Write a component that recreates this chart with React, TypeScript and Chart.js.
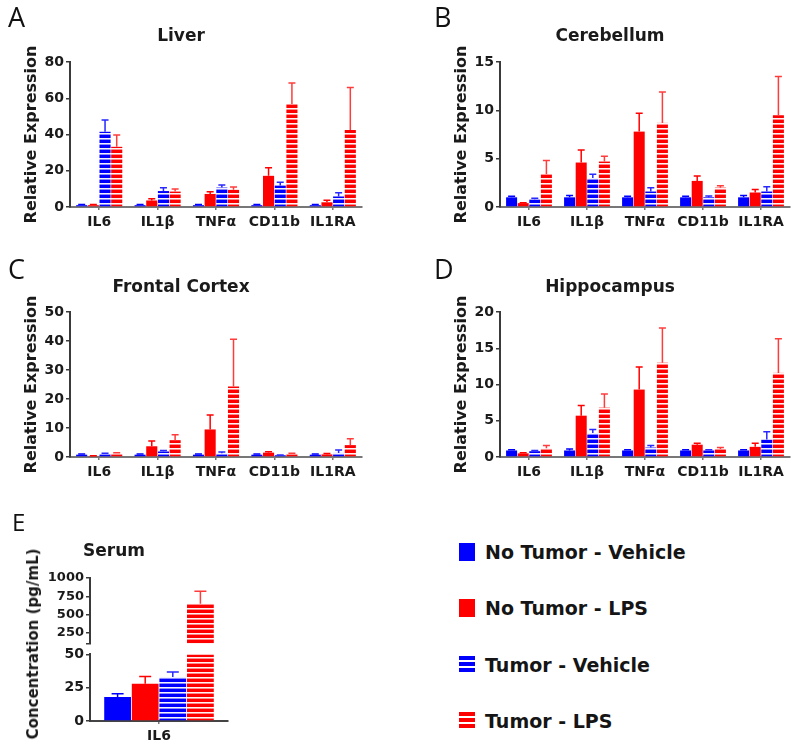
import React, { useEffect, useRef } from 'react';
import { Chart, registerables } from 'chart.js';

Chart.register(...registerables);
Chart.defaults.font.family = "'DejaVu Sans', 'Liberation Sans', sans-serif";

// ---------- data ----------
const genes = ['IL6', 'IL1β', 'TNFα', 'CD11b', 'IL1RA'];
const groups = ['No Tumor - Vehicle', 'No Tumor - LPS', 'Tumor - Vehicle', 'Tumor - LPS'];

// Liver
const liverNTV = [1.0, 1.0, 1.0, 1.0, 1.0];
const liverNTVErr = [0.4, 0.4, 0.4, 0.4, 0.4];
const liverNTL = [1.0, 3.6, 7.2, 17.2, 2.6];
const liverNTLErr = [0.4, 0.9, 1.2, 4.4, 1.1];
const liverTV = [41.5, 8.8, 10.7, 11.8, 5.8];
const liverTVErr = [6.5, 1.8, 1.4, 1.8, 2.0];
const liverTL = [33.2, 8.5, 9.5, 56.8, 42.5];
const liverTLErr = [6.5, 1.4, 1.5, 11.6, 23.5];

// Cerebellum
const cereNTV = [1.0, 1.0, 1.0, 1.0, 1.0];
const cereNTVErr = [0.1, 0.2, 0.1, 0.1, 0.2];
const cereNTL = [0.4, 4.6, 7.8, 2.7, 1.5];
const cereNTLErr = [0.05, 1.3, 1.9, 0.5, 0.3];
const cereTV = [0.8, 3.0, 1.6, 1.0, 1.6];
const cereTVErr = [0.1, 0.4, 0.4, 0.15, 0.5];
const cereTL = [3.4, 4.7, 8.7, 2.0, 9.5];
const cereTLErr = [1.4, 0.55, 3.2, 0.2, 4.0];

// Frontal Cortex
const fcNTV = [0.8, 0.8, 0.8, 0.8, 0.8];
const fcNTVErr = [0.2, 0.2, 0.2, 0.2, 0.2];
const fcNTL = [0.3, 3.7, 9.5, 1.5, 0.9];
const fcNTLErr = [0.1, 1.8, 5.0, 0.3, 0.3];
const fcTV = [1.0, 1.9, 1.3, 0.6, 1.4];
const fcTVErr = [0.3, 0.3, 0.4, 0.1, 1.0];
const fcTL = [1.2, 5.8, 24.3, 1.1, 4.1];
const fcTLErr = [0.3, 1.9, 16.3, 0.2, 2.2];

// Hippocampus
const hipNTV = [0.9, 0.9, 0.9, 0.9, 0.9];
const hipNTVErr = [0.1, 0.2, 0.1, 0.1, 0.1];
const hipNTL = [0.5, 5.7, 9.3, 1.7, 1.4];
const hipNTLErr = [0.1, 1.4, 3.1, 0.2, 0.5];
const hipTV = [0.8, 3.3, 1.3, 0.9, 2.4];
const hipTVErr = [0.1, 0.5, 0.3, 0.1, 1.1];
const hipTL = [1.2, 6.8, 13.0, 1.1, 11.6];
const hipTLErr = [0.4, 1.9, 4.8, 0.2, 4.7];

// Serum
const serumLabels = ['IL6'];
const serumIL6 = [18, 28, 33, 650];
const serumIL6Err = [2.5, 5.5, 3.8, 170];
const serumLowerTicks = [0, 25, 50];
const serumUpperTicks = [250, 500, 750, 1000];
const serumBreak = 100;

// ---------- styles ----------
const BLUE = 'rgb(0,0,255)';
const RED = 'rgb(255,0,0)';
const TEXT = '#1a1a1a';
const AXIS = '#3a3a3a';

function stripePattern(color: string): CanvasPattern | string {
  const c = document.createElement('canvas');
  c.width = 4;
  c.height = 5;
  const g = c.getContext('2d');
  if (!g) return color;
  g.fillStyle = color;
  g.fillRect(0, 0, 4, 5);
  g.fillStyle = 'rgba(255,255,255,0.95)';
  g.fillRect(0, 3, 4, 1);
  g.fillStyle = 'rgba(255,255,255,0.55)';
  g.fillRect(0, 4, 4, 1);
  const p = g.createPattern(c, 'repeat');
  return p || color;
}

const errorBarPlugin = {
  id: 'errorBars',
  afterDatasetsDraw(chart: any, _args: any, opts: any) {
    const ctx = chart.ctx;
    chart.data.datasets.forEach((ds: any, di: number) => {
      const meta = chart.getDatasetMeta(di);
      if (!ds.errors || meta.hidden) return;
      const yScale = chart.scales[meta.yAxisID];
      ctx.save();
      ctx.strokeStyle = ds.errorColor;
      ctx.lineWidth = 1.5;
      meta.data.forEach((bar: any, i: number) => {
        const raw = ds.values ? ds.values[i] : ds.data[i];
        const e = ds.errors[i];
        if (raw == null || e == null || ds.data[i] == null) return;
        if (raw > yScale.max) return;
        const yTop = yScale.getPixelForValue(raw + e);
        const half = opts.cap ?? 3.5;
        ctx.beginPath();
        ctx.moveTo(bar.x, bar.y);
        ctx.lineTo(bar.x, yTop);
        ctx.moveTo(bar.x - half, yTop);
        ctx.lineTo(bar.x + half, yTop);
        ctx.stroke();
      });
      ctx.restore();
    });
  },
};
Chart.register(errorBarPlugin as any);

function fills() {
  return [BLUE, RED, stripePattern(BLUE), stripePattern(RED)];
}
const errColors = [BLUE, RED, 'rgb(40,40,255)', 'rgb(255,60,60)'];

function organConfig(
  title: string,
  vals: number[][],
  errs: number[][],
  yMax: number,
  yStep: number,
  titleTop: number,
  titleBottom: number,
  padRight: number
): any {
  const f = fills();
  return {
    type: 'bar',
    data: {
      labels: genes,
      datasets: groups.map((g, i) => ({
        label: g,
        data: vals[i],
        errors: errs[i],
        errorColor: errColors[i],
        backgroundColor: f[i],
        borderWidth: 0,
        categoryPercentage: 0.8,
        barPercentage: 0.95,
      })),
    },
    options: {
      animation: false,
      responsive: false,
      maintainAspectRatio: false,
      layout: { padding: { right: padRight } },
      plugins: {
        legend: { display: false },
        tooltip: { enabled: false },
        title: {
          display: true,
          text: title,
          color: TEXT,
          font: { size: 17, weight: 'bold' },
          padding: { top: titleTop, bottom: titleBottom },
        },
        errorBars: { cap: 3.5 },
      },
      scales: {
        x: {
          grid: { display: true, offset: false, drawOnChartArea: false, drawTicks: true, tickLength: 3, color: '#777', lineWidth: 1.5 },
          border: { display: true, color: '#777', width: 2 },
          ticks: { color: TEXT, font: { size: 14, weight: 'bold' }, padding: 4, maxRotation: 0, autoSkip: false },
          afterFit: (s: any) => { s.height = 41; },
        },
        y: {
          min: 0,
          max: yMax,
          ticks: { stepSize: yStep, color: TEXT, font: { size: 14, weight: 'bold' }, padding: 2 },
          grid: { display: true, drawOnChartArea: false, drawTicks: true, tickLength: 4, color: AXIS, lineWidth: 1.5 },
          border: { display: true, color: AXIS, width: 2 },
          title: {
            display: true,
            text: 'Relative Expression',
            color: TEXT,
            font: { size: 16, weight: 'bold' },
            padding: { top: 22.4, bottom: 0 },
          },
          afterFit: (s: any) => { s.width = 70; },
        },
      },
    },
  };
}

function serumUpperConfig(): any {
  const f = fills();
  return {
    type: 'bar',
    data: {
      labels: serumLabels,
      datasets: groups.map((g, i) => ({
        label: g,
        data: [serumIL6[i] > serumBreak ? serumIL6[i] : null],
        values: [serumIL6[i]],
        errors: [serumIL6Err[i]],
        errorColor: errColors[i],
        backgroundColor: f[i],
        borderWidth: 0,
        categoryPercentage: 0.8,
        barPercentage: 0.97,
      })),
    },
    options: {
      animation: false,
      responsive: false,
      maintainAspectRatio: false,
      layout: { padding: { right: 12, bottom: 10 } },
      plugins: {
        legend: { display: false },
        tooltip: { enabled: false },
        title: {
          display: true,
          text: 'Serum',
          color: TEXT,
          font: { size: 17, weight: 'bold' },
          padding: { top: 21.8, bottom: 15.8 },
        },
        errorBars: { cap: 6 },
      },
      scales: {
        x: { display: false },
        y: {
          min: serumBreak,
          max: serumUpperTicks[serumUpperTicks.length - 1],
          afterBuildTicks: (s: any) => {
            s.ticks = [serumBreak, ...serumUpperTicks].map((v) => ({ value: v }));
          },
          ticks: {
            autoSkip: false,
            color: TEXT,
            font: { size: 13, weight: 'bold' },
            padding: 2,
            callback: (v: any) => (v === serumBreak ? '' : String(v)),
          },
          grid: { display: true, drawOnChartArea: false, drawTicks: true, tickLength: 4, color: AXIS, lineWidth: 1.5 },
          border: { display: true, color: AXIS, width: 2 },
          afterFit: (s: any) => { s.width = 90; },
        },
      },
    },
  };
}

function serumLowerConfig(): any {
  const f = fills();
  const lowMax = serumLowerTicks[serumLowerTicks.length - 1];
  return {
    type: 'bar',
    data: {
      labels: serumLabels,
      datasets: groups.map((g, i) => ({
        label: g,
        data: [Math.min(serumIL6[i], lowMax)],
        values: [serumIL6[i]],
        errors: [serumIL6Err[i]],
        errorColor: errColors[i],
        backgroundColor: f[i],
        borderWidth: 0,
        categoryPercentage: 0.8,
        barPercentage: 0.97,
      })),
    },
    options: {
      animation: false,
      responsive: false,
      maintainAspectRatio: false,
      layout: { padding: { right: 12, top: 10 } },
      plugins: {
        legend: { display: false },
        tooltip: { enabled: false },
        title: { display: false },
        errorBars: { cap: 6 },
      },
      scales: {
        x: {
          grid: { display: true, offset: false, drawOnChartArea: false, drawTicks: true, tickLength: 3, color: '#777', lineWidth: 1.5 },
          border: { display: true, color: '#444', width: 2 },
          ticks: { color: TEXT, font: { size: 14, weight: 'bold' }, padding: 4, maxRotation: 0 },
          afterFit: (s: any) => { s.height = 30; },
        },
        y: {
          min: 0,
          max: lowMax,
          ticks: { stepSize: 25, color: TEXT, font: { size: 14, weight: 'bold' }, padding: 2 },
          grid: { display: true, drawOnChartArea: false, drawTicks: true, tickLength: 4, color: AXIS, lineWidth: 1.5 },
          border: { display: true, color: AXIS, width: 2 },
          afterFit: (s: any) => { s.width = 90; },
        },
      },
    },
  };
}

function ChartBox(props: { left: number; top: number; width: number; height: number; build: () => any }) {
  const ref = useRef<HTMLCanvasElement>(null);
  useEffect(() => {
    const canvas = ref.current;
    if (!canvas) return;
    const chart = new Chart(canvas, props.build());
    return () => chart.destroy();
  }, []);
  return (
    <canvas
      ref={ref}
      width={props.width}
      height={props.height}
      style={{ position: 'absolute', left: props.left, top: props.top, width: props.width, height: props.height }}
    />
  );
}

const letterStyle: React.CSSProperties = {
  position: 'absolute',
  fontFamily: "'Open Sans', sans-serif",
  fontSize: 27,
  lineHeight: '27px',
  color: '#111',
};

const legendText: React.CSSProperties = {
  position: 'absolute',
  left: 485,
  fontFamily: "'DejaVu Sans', sans-serif",
  fontWeight: 'bold',
  fontSize: 19,
  lineHeight: '24px',
  color: '#151515',
  whiteSpace: 'nowrap',
};

const legendRows = [552, 608, 665, 721];

export default function App() {
  const swatchBg = [
    BLUE,
    RED,
    `repeating-linear-gradient(to bottom, ${BLUE} 0px, ${BLUE} 4px, #fff 4px, #fff 6px)`,
    `repeating-linear-gradient(to bottom, ${RED} 0px, ${RED} 4px, #fff 4px, #fff 6px)`,
  ];
  return (
    <div style={{ position: 'fixed', left: 0, top: 0, width: 800, height: 753, background: '#fff', overflow: 'hidden' }}>
      <ChartBox left={0} top={0} width={380} height={248}
        build={() => organConfig('Liver', [liverNTV, liverNTL, liverTV, liverTL], [liverNTVErr, liverNTLErr, liverTVErr, liverTLErr], 80, 20, 26.8, 14.8, 18)} />
      <ChartBox left={430} top={0} width={370} height={248}
        build={() => organConfig('Cerebellum', [cereNTV, cereNTL, cereTV, cereTL], [cereNTVErr, cereNTLErr, cereTVErr, cereTLErr], 15, 5, 26.8, 14.8, 10)} />
      <ChartBox left={0} top={250} width={380} height={248}
        build={() => organConfig('Frontal Cortex', [fcNTV, fcNTL, fcTV, fcTL], [fcNTVErr, fcNTLErr, fcTVErr, fcTLErr], 50, 10, 27.8, 13.8, 18)} />
      <ChartBox left={430} top={250} width={370} height={248}
        build={() => organConfig('Hippocampus', [hipNTV, hipNTL, hipTV, hipTL], [hipNTVErr, hipNTLErr, hipTVErr, hipTLErr], 20, 5, 27.8, 13.8, 10)} />
      <ChartBox left={0} top={520} width={240} height={134} build={serumUpperConfig} />
      <ChartBox left={0} top={644} width={240} height={107} build={serumLowerConfig} />

      <div style={{ ...letterStyle, left: 8, top: 3 }}>A</div>
      <div style={{ ...letterStyle, left: 434, top: 3 }}>B</div>
      <div style={{ ...letterStyle, left: 8, top: 255 }}>C</div>
      <div style={{ ...letterStyle, left: 434, top: 255 }}>D</div>
      <div style={{ ...letterStyle, left: 12, top: 508, fontSize: 24 }}>E</div>

      <div
        style={{
          position: 'absolute',
          left: 33,
          top: 644,
          transform: 'translate(-50%, -50%) rotate(-90deg)',
          fontFamily: "'DejaVu Sans', sans-serif",
          fontWeight: 'bold',
          fontSize: 15,
          color: TEXT,
          whiteSpace: 'nowrap',
        }}
      >
        Concentration (pg/mL)
      </div>

      {groups.map((g, i) => (
        <React.Fragment key={g}>
          <div style={{ position: 'absolute', left: 459, top: legendRows[i] - 9, width: 16, height: 18, background: swatchBg[i] }} />
          <div style={{ ...legendText, top: legendRows[i] - 12 }}>{g}</div>
        </React.Fragment>
      ))}
    </div>
  );
}
